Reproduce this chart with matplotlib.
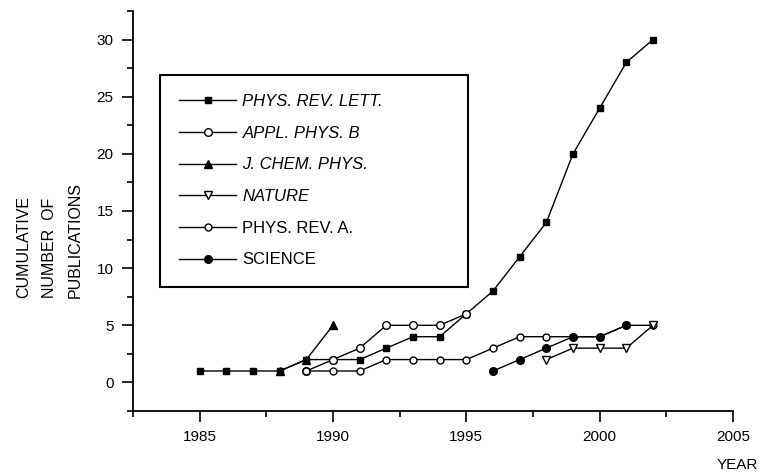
import numpy as np
import matplotlib.pyplot as plt
from matplotlib.ticker import MultipleLocator

plt.rcParams['font.family'] = ['Liberation Sans', 'DejaVu Sans']

# cumulative publications per journal
yr_prl = [1985, 1986, 1987, 1988, 1989, 1990, 1991, 1992, 1993, 1994, 1995, 1996, 1997, 1998, 1999, 2000, 2001, 2002]
n_prl = [1, 1, 1, 1, 2, 2, 2, 3, 4, 4, 6, 8, 11, 14, 20, 24, 28, 30]

yr_apb = [1989, 1990, 1991, 1992, 1993, 1994, 1995]
n_apb = [1, 2, 3, 5, 5, 5, 6]

yr_jcp = [1988, 1989, 1990]
n_jcp = [1, 2, 5]

yr_nat = [1998, 1999, 2000, 2001, 2002]
n_nat = [2, 3, 3, 3, 5]

yr_pra = [1989, 1990, 1991, 1992, 1993, 1994, 1995, 1996, 1997, 1998, 1999, 2000, 2001, 2002]
n_pra = [1, 1, 1, 2, 2, 2, 2, 3, 4, 4, 4, 4, 5, 5]

yr_sci = [1996, 1997, 1998, 1999, 2000, 2001]
n_sci = [1, 2, 3, 4, 4, 5]

fig = plt.figure(figsize=(7.64, 4.76), dpi=100)
ax = fig.add_axes([133/764, 1-411/476, 600/764, 400/476])

lw = 1.0
l1, = ax.plot(yr_prl, n_prl, color='k', lw=lw, marker='s', ms=5, mfc='k', mec='k', label='PHYS. REV. LETT.')
l2, = ax.plot(yr_apb, n_apb, color='k', lw=lw, marker='o', ms=5.5, mfc='white', mec='k', mew=1, label='APPL. PHYS. B')
l3, = ax.plot(yr_jcp, n_jcp, color='k', lw=lw, marker='^', ms=6, mfc='k', mec='k', label='J. CHEM. PHYS.')
l5, = ax.plot(yr_pra, n_pra, color='k', lw=lw, marker='o', ms=5, mfc='white', mec='k', mew=1, label='PHYS. REV. A.')
l6, = ax.plot(yr_sci, n_sci, color='k', lw=lw, marker='o', ms=5.5, mfc='k', mec='k', label='SCIENCE')
l4, = ax.plot(yr_nat, n_nat, color='k', lw=lw, marker='v', ms=6, mfc='white', mec='k', mew=1, label='NATURE')

ax.set_xlim(1982.5, 2005)
ax.set_ylim(-2.5, 32.5)
ax.spines['top'].set_visible(False)
ax.spines['right'].set_visible(False)
for s in ['left', 'bottom']:
    ax.spines[s].set_linewidth(1.3)
ax.xaxis.set_major_locator(MultipleLocator(5))
ax.xaxis.set_minor_locator(MultipleLocator(2.5))
ax.yaxis.set_major_locator(MultipleLocator(5))
ax.yaxis.set_minor_locator(MultipleLocator(2.5))
ax.tick_params(which='major', direction='out', length=8, width=1.2, labelsize=11, pad=6)
ax.tick_params(which='minor', direction='out', length=4, width=1.2)

leg = ax.legend(handles=[l1, l2, l3, l4, l5, l6], loc='upper left', mode='expand',
                bbox_to_anchor=((160-133)/600, 0.0, 308/600, 1-(75-11)/400), borderaxespad=0,
                fancybox=False, edgecolor='k', framealpha=1, numpoints=1,
                handlelength=3.4, handletextpad=0.4, labelspacing=1.0,
                borderpad=1.15, prop={'size': 12})
leg.get_frame().set_linewidth(1.5)
for t in leg.get_texts()[:4]:
    t.set_style('italic')

fig.text(16/764, 1-298/476, 'CUMULATIVE\nNUMBER  OF\nPUBLICATIONS', rotation=90,
         ha='left', va='bottom', multialignment='left', linespacing=1.9, fontsize=11.5)
fig.text(737/764, 1-465/476, 'YEAR', ha='center', va='center', fontsize=11)

fig.savefig('out.png', dpi=100)
